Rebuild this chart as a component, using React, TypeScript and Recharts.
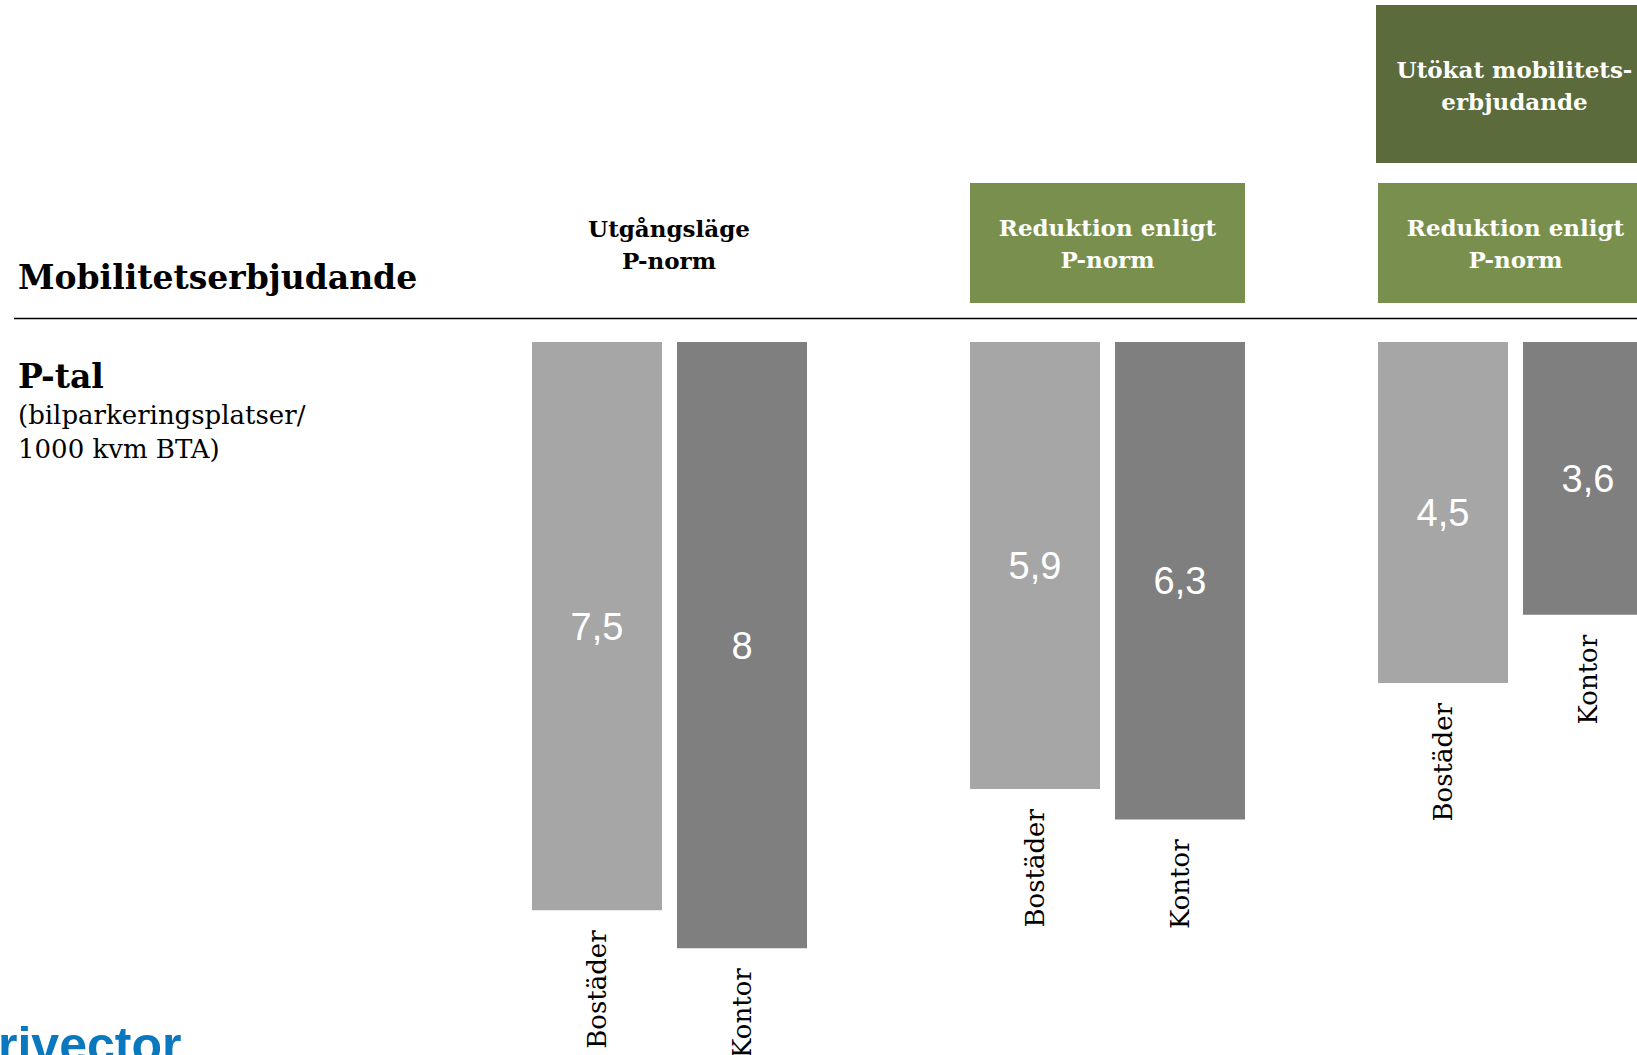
import React from 'react';
import { BarChart, Bar, XAxis, YAxis, LabelList } from 'recharts';

// ---- data ----
const groups = ['Utgångsläge', 'Reduktion enligt P-norm', 'Utökat mobilitetserbjudande'];
const seriesNames = ['Bostäder', 'Kontor'];
const bostader = [7.5, 5.9, 4.5];
const kontor = [8, 6.3, 3.6];
const yDomain = [0, 9];

// ---- layout / style ----
const W = 1637;
const H = 1055;
const GROUP_LEFT = [531, 969, 1377];
const CHART_TOP = 342;
const CHART_W = 277;
const CHART_H = 713;
const LIGHT = '#a6a6a6';
const DARK = '#7f7f7f';
const GREEN = '#798f4d';
const DARK_GREEN = '#5c6b3b';
const SERIF = '"DejaVu Serif", serif';
const SANS = '"Liberation Sans", Arial, sans-serif';

const fmt = (v: any) => String(v).replace('.', ',');

const makeNameLabel = (name: string) => (props: any) => {
  const { x, y, width, height } = props;
  const bottom = Math.max(y, y + height);
  const cx = x + width / 2;
  const ty = bottom + 20;
  return (
    <text
      x={cx}
      y={ty}
      transform={`rotate(-90 ${cx} ${ty})`}
      textAnchor="end"
      dominantBaseline="central"
      fontFamily={SERIF}
      fontSize={26}
      fill="#000"
    >
      {name}
    </text>
  );
};

function GroupChart({ index }: { index: number }) {
  const data = [{ name: groups[index], [seriesNames[0]]: bostader[index], [seriesNames[1]]: kontor[index] }];
  return (
    <div style={{ position: 'absolute', left: GROUP_LEFT[index], top: CHART_TOP }}>
      <BarChart
        width={CHART_W}
        height={CHART_H}
        data={data}
        margin={{ top: 0, right: 0, bottom: 31, left: 0 }}
        barCategoryGap={0}
        barGap={15}
        style={{ overflow: 'visible' }}
      >
        <XAxis dataKey="name" hide />
        <YAxis hide reversed domain={yDomain} type="number" allowDataOverflow />
        {seriesNames.map((s, i) => (
          <Bar key={s} dataKey={s} fill={i === 0 ? LIGHT : DARK} barSize={130} isAnimationActive={false}>
            <LabelList
              dataKey={s}
              position="center"
              formatter={fmt}
              fill="#fff"
              fontSize={38}
              fontFamily={SANS}
            />
            <LabelList dataKey={s} content={makeNameLabel(s)} />
          </Bar>
        ))}
      </BarChart>
    </div>
  );
}

export default function App() {
  const headerText = (lines: string[], cx: number, y0: number, fill: string) =>
    lines.map((l, i) => (
      <text
        key={i}
        x={cx}
        y={y0 + i * 32}
        textAnchor="middle"
        fontFamily={SERIF}
        fontWeight="bold"
        fontSize={23}
        fill={fill}
      >
        {l}
      </text>
    ));
  return (
    <div
      style={{
        position: 'absolute',
        left: 0,
        top: 0,
        width: W,
        height: H,
        overflow: 'hidden',
        background: '#fff',
      }}
    >
      <svg width={W} height={H} style={{ position: 'absolute', left: 0, top: 0 }}>
        <text x={18} y={289} fontFamily={SERIF} fontWeight="bold" fontSize={33} fill="#000">
          Mobilitetserbjudande
        </text>
        <line x1={14} y1={318.5} x2={W} y2={318.5} stroke="#000" strokeWidth={1.6} />
        <text x={18} y={388} fontFamily={SERIF} fontWeight="bold" fontSize={33} fill="#000">
          P-tal
        </text>
        <text x={18} y={424} fontFamily={SERIF} fontSize={26} fill="#000">
          (bilparkeringsplatser/
        </text>
        <text x={18} y={458} fontFamily={SERIF} fontSize={26} fill="#000">
          1000 kvm BTA)
        </text>

        {headerText(['Utgångsläge', 'P-norm'], 669, 237, '#000')}

        <rect x={970} y={183} width={275} height={120} fill={GREEN} />
        {headerText(['Reduktion enligt', 'P-norm'], 1107.5, 236, '#fff')}

        <rect x={1378} y={183} width={275} height={120} fill={GREEN} />
        {headerText(['Reduktion enligt', 'P-norm'], 1515.5, 236, '#fff')}

        <rect x={1376} y={5} width={277} height={158} fill={DARK_GREEN} />
        {headerText(['Utökat mobilitets-', 'erbjudande'], 1514.5, 78, '#fff')}

        <text x={-2} y={1062} fontFamily={SANS} fontWeight="bold" fontSize={50} fill="#0a78bf">
          rivector
        </text>
      </svg>
      {groups.map((_, i) => (
        <GroupChart key={i} index={i} />
      ))}
    </div>
  );
}
